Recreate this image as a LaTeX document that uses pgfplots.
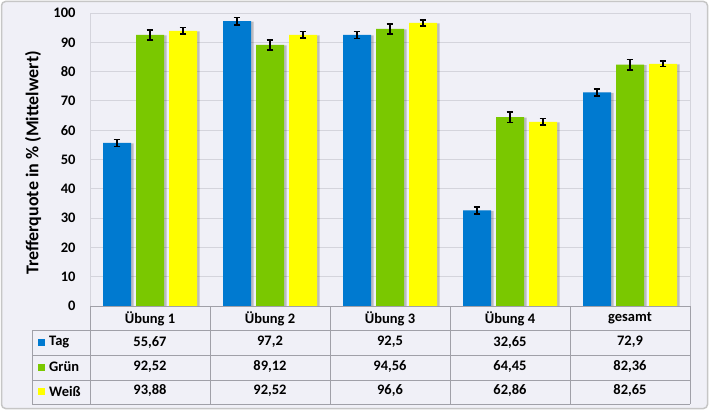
\documentclass[border=0pt]{standalone}
\usepackage{fontspec}
\setmainfont{Carlito}
\usepackage{pgfplots}
\usepackage{pgfplotstable}
\pgfplotsset{compat=1.18}
\definecolor{cTag}{RGB}{0,122,208}
\definecolor{cGruen}{RGB}{122,200,0}
\definecolor{cWeiss}{RGB}{255,255,0}
\definecolor{bg}{RGB}{240,240,247}
\definecolor{tline}{RGB}{160,160,168}
\definecolor{gridc}{RGB}{212,212,220}

\pgfplotstableread{
x Tag TagE Gruen GruenE Weiss WeissE
0 55.67 1.2 92.52 1.7 93.88 1.1
1 97.2 1.3 89.12 1.7 92.52 1.1
2 92.5 1.2 94.56 1.7 96.6 1.0
3 32.65 1.2 64.45 1.8 62.86 1.1
4 72.9 1.2 82.36 1.8 82.65 0.9
}\data

\begin{document}
\begin{tikzpicture}
\path[use as bounding box] (0,0) rectangle (709pt,410pt);
\draw[rounded corners=4pt, draw=gray!45, fill=bg, line width=1.5pt] (1.5pt,1.5pt) rectangle (707.5pt,408.5pt);
\begin{axis}[
  at={(90pt,104pt)}, anchor=south west, scale only axis,
  width=600pt, height=293pt,
  ybar=5pt, bar width=28pt,
  xmin=-0.5, xmax=4.5, ymin=0, ymax=100,
  ytick={0,10,...,100},
  xtick={0,...,4},
  xticklabels={Übung 1,Übung 2,Übung 3,Übung 4,gesamt},
  major tick length=0pt,
  ymajorgrids, grid style={gridc, line width=0.8pt},
  axis line style={gridc, line width=0.8pt},
  clip=false,
  ticklabel style={font=\fontsize{14.5}{16}\selectfont\bfseries},
  yticklabel style={xshift=-11pt},
  xticklabel style={anchor=center, yshift=-12.5pt},
  /pgf/number format/assume math mode=true,
  /pgf/number format/use comma,
  /pgf/number format/precision=2,
  /pgf/number format/1000 sep={},
  error bars/error bar style={line width=1.4pt, black},
  error bars/error mark options={rotate=90, mark size=3.4pt, line width=1.5pt, black},
  shadowbar/.style={preaction={fill=black, opacity=0.22, transform canvas={xshift=2.5pt, yshift=-0.5pt}}},
]
\addplot[bar shift=-33pt, fill=cTag, draw=none, shadowbar,
  error bars/.cd, y dir=both, y explicit] table[x=x, y=Tag, y error=TagE]{\data};
\addplot[bar shift=0pt, fill=cGruen, draw=none, shadowbar,
  error bars/.cd, y dir=both, y explicit] table[x=x, y=Gruen, y error=GruenE]{\data};
\addplot[bar shift=33pt, fill=cWeiss, draw=none, shadowbar,
  error bars/.cd, y dir=both, y explicit] table[x=x, y=Weiss, y error=WeissE]{\data};
% data table values
\addplot[bar shift=0pt, draw=none, fill=none, mark=none, nodes near coords, nodes near coords align={center}, point meta=explicit,
  every node near coord/.append style={font=\fontsize{14.5}{16}\selectfont\bfseries, anchor=center, black}]
  table[x=x, y expr=-12.3, meta=Tag]{\data};
\addplot[bar shift=0pt, draw=none, fill=none, mark=none, nodes near coords, nodes near coords align={center}, point meta=explicit,
  every node near coord/.append style={font=\fontsize{14.5}{16}\selectfont\bfseries, anchor=center, black}]
  table[x=x, y expr=-20.8, meta=Gruen]{\data};
\addplot[bar shift=0pt, draw=none, fill=none, mark=none, nodes near coords, nodes near coords align={center}, point meta=explicit,
  every node near coord/.append style={font=\fontsize{14.5}{16}\selectfont\bfseries, anchor=center, black}]
  table[x=x, y expr=-29.0, meta=Weiss]{\data};
\end{axis}
% table grid
\begin{scope}[tline, line width=0.9pt]
\draw (90pt,104pt) -- (690pt,104pt);
\draw (32pt,79.5pt) -- (690pt,79.5pt);
\draw (32pt,54.5pt) -- (690pt,54.5pt);
\draw (32pt,30pt) -- (690pt,30pt);
\draw (32pt,6pt) -- (690pt,6pt);
\draw (32pt,6pt) -- (32pt,79.5pt);
\foreach \xx in {90,210,330,450,570,690} \draw (\xx pt,6pt) -- (\xx pt,104pt);
\end{scope}
\fill[cTag] (38pt,64.5pt) rectangle ++(7pt,7pt);
\fill[cGruen] (38pt,39.5pt) rectangle ++(7pt,7pt);
\fill[cWeiss] (38pt,15.5pt) rectangle ++(7pt,7pt);
\node[anchor=west, font=\fontsize{14.5}{16}\selectfont\bfseries, inner sep=0pt] at (49pt,68pt) {Tag};
\node[anchor=west, font=\fontsize{14.5}{16}\selectfont\bfseries, inner sep=0pt] at (49pt,43pt) {Grün};
\node[anchor=west, font=\fontsize{14.5}{16}\selectfont\bfseries, inner sep=0pt] at (49pt,19pt) {Weiß};
\node[rotate=90, font=\fontsize{18}{20}\selectfont\bfseries] at (33pt,247pt) {Trefferquote in \% (Mittelwert)};
\end{tikzpicture}
\end{document}
